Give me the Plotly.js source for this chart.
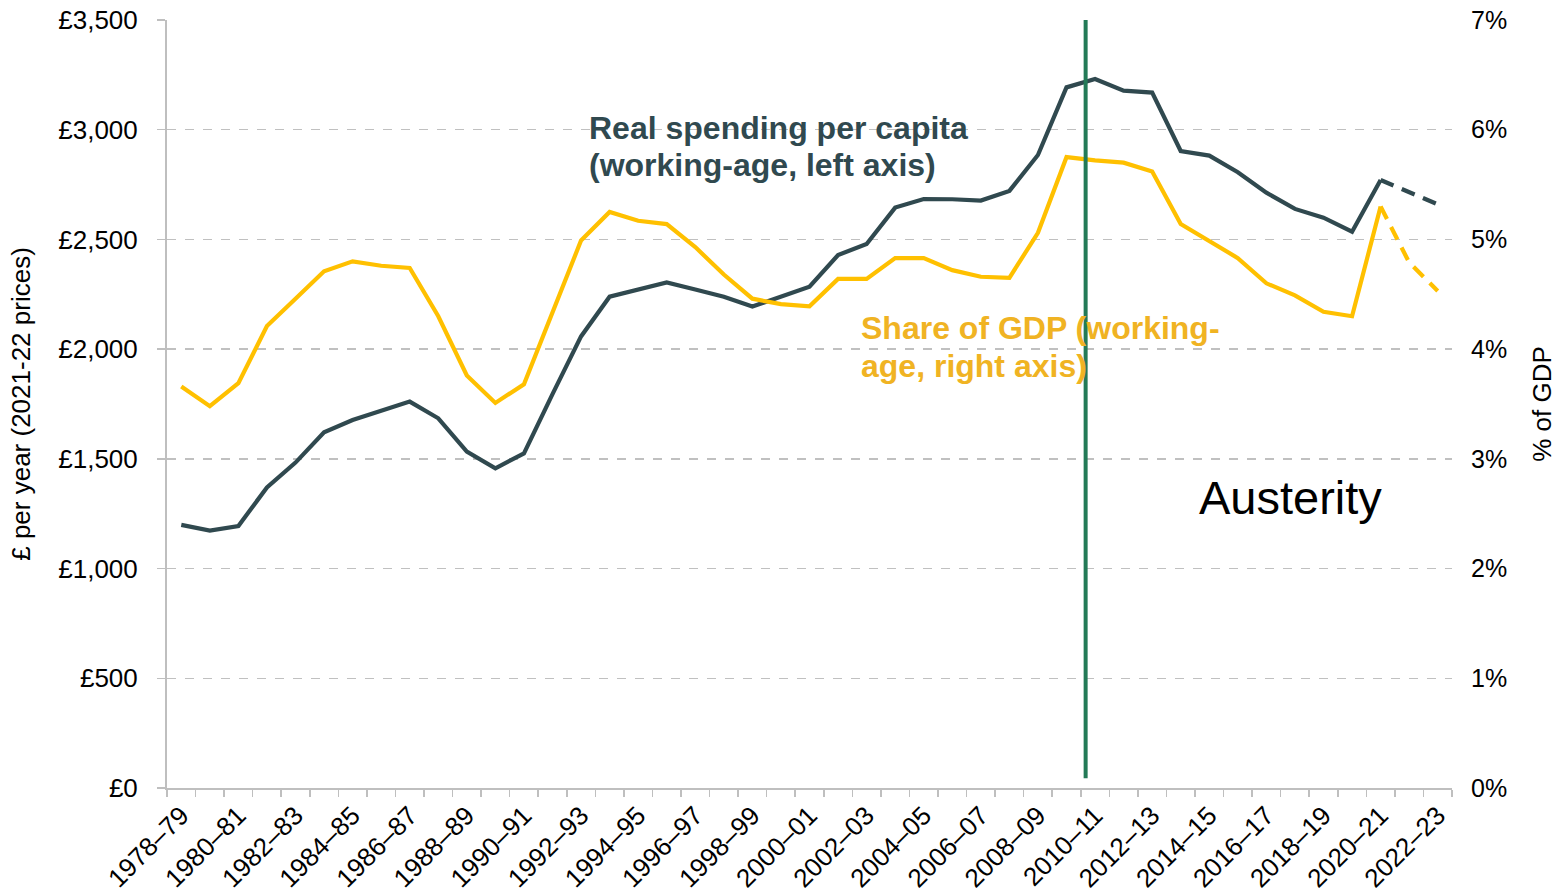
<!DOCTYPE html>
<html>
<head>
<meta charset="utf-8">
<script src="https://cdn.plot.ly/plotly-3.0.1.min.js"></script>
<style>
html,body{margin:0;padding:0;background:#fff;}
#chart{width:1557px;height:896px;}
</style>
</head>
<body>
<div id="chart"></div>
<script>
// Financial years 1978–79 to 2022–23
const years = ["1978–79","1979–80","1980–81","1981–82","1982–83","1983–84","1984–85","1985–86","1986–87","1987–88",
"1988–89","1989–90","1990–91","1991–92","1992–93","1993–94","1994–95","1995–96","1996–97","1997–98",
"1998–99","1999–00","2000–01","2001–02","2002–03","2003–04","2004–05","2005–06","2006–07","2007–08",
"2008–09","2009–10","2010–11","2011–12","2012–13","2013–14","2014–15","2015–16","2016–17","2017–18",
"2018–19","2019–20","2020–21","2021–22","2022–23"];

// Real spending per capita, working-age (£, 2021-22 prices) – left axis
const realSpending = [1199,1173,1194,1370,1483,1621,1677,1718,1761,1685,
1533,1457,1525,1795,2058,2239,2272,2304,2272,2239,
2194,2239,2285,2429,2479,2645,2684,2683,2677,2721,
2885,3193,3231,3178,3169,2903,2882,2806,2713,2639,
2599,2535,2771,2716,2660];

// Share of GDP, working-age (%) – right axis
const shareGDP = [3.66,3.48,3.69,4.21,4.46,4.71,4.80,4.76,4.74,4.30,
3.76,3.51,3.68,4.33,4.99,5.25,5.17,5.14,4.93,4.68,
4.46,4.41,4.39,4.64,4.64,4.83,4.83,4.72,4.66,4.65,
5.06,5.75,5.72,5.70,5.62,5.14,4.99,4.83,4.60,4.49,
4.34,4.30,5.30,4.79,4.53];

// Index where the projected (dashed) part starts
const projStart = 42;

// Tick labels: every second year
const tickLabels = years.map((y,i)=> i%2===0 ? y : "");

const leftTicks = [0,500,1000,1500,2000,2500,3000,3500];
const rightTicks = [0,1,2,3,4,5,6,7];

const spendLabel = ["Real spending per capita", "(working-age, left axis)"];
const shareLabel = ["Share of GDP (working-", "age, right axis)"];
const periodLabel = "Austerity";

const DARK = "#30494f";
const GOLD = "#ffc000";
const FONT = "Liberation Sans, Arial, sans-serif";

const traces = [
  {x: years.slice(0, projStart+1), y: shareGDP.slice(0, projStart+1), yaxis:"y2", type:"scatter", mode:"lines",
   line:{color:GOLD, width:4.2}, hoverinfo:"skip", showlegend:false},
  {x: years.slice(projStart), y: shareGDP.slice(projStart), yaxis:"y2", type:"scatter", mode:"lines",
   line:{color:GOLD, width:4.2, dash:"14px,9px"}, hoverinfo:"skip", showlegend:false},
  {x: years.slice(0, projStart+1), y: realSpending.slice(0, projStart+1), type:"scatter", mode:"lines",
   line:{color:DARK, width:4.2}, hoverinfo:"skip", showlegend:false},
  {x: years.slice(projStart), y: realSpending.slice(projStart), type:"scatter", mode:"lines",
   line:{color:DARK, width:4.2, dash:"14px,9px"}, hoverinfo:"skip", showlegend:false}
];

const layout = {
  width:1557, height:896,
  margin:{l:167, r:105, t:20, b:108},
  paper_bgcolor:"#fff", plot_bgcolor:"#fff",
  font:{family:FONT, size:26, color:"#000"},
  showlegend:false,
  xaxis:{
    type:"category", categoryorder:"array", categoryarray:years,
    range:[-0.5, years.length-0.5],
    tickmode:"array", tickvals:years, ticktext:tickLabels,
    tickson:"boundaries", ticks:"outside", ticklen:7, tickwidth:1.5, tickcolor:"#bfbfbf",
    showline:true, linecolor:"#bfbfbf", linewidth:2,
    showgrid:false, zeroline:false, tickangle:-45,
    tickfont:{size:26, color:"#000"}, automargin:false
  },
  yaxis:{
    range:[0,3500], tickmode:"array", tickvals:leftTicks,
    ticktext:leftTicks.map(v=>"£"+v.toLocaleString("en-GB")),
    showgrid:true, gridcolor:"#c0c0c0", griddash:"dash", gridwidth:1.5,
    showline:true, linecolor:"#bfbfbf", linewidth:2,
    ticks:"outside", ticklen:8, tickwidth:1.5, tickcolor:"#bfbfbf",
    ticklabelstandoff:14,
    zeroline:false, automargin:false,
    tickfont:{size:26, color:"#000"},
    title:{text:"£ per year (2021-22 prices)", font:{size:26, color:"#000"}, standoff:20}
  },
  yaxis2:{
    overlaying:"y", side:"right", range:[0,7], tickmode:"array", tickvals:rightTicks,
    ticktext:rightTicks.map(v=>v+"%"),
    showgrid:false, showline:false, zeroline:false, ticks:"", ticklabelstandoff:18,
    automargin:false, tickfont:{size:25, color:"#000"},
    title:{text:"% of GDP", font:{size:26, color:"#000"}, standoff:26}
  },
  shapes:[
    {type:"line", xref:"x", yref:"y", x0:31.67, x1:31.67, y0:45, y1:3500,
     line:{color:"#237a57", width:4}, layer:"above"}
  ],
  annotations:[
    {xref:"x", yref:"y", x:14.22, y:3008, xanchor:"left", yanchor:"middle", align:"left", showarrow:false,
     text:"<b>"+spendLabel[0]+"</b>", font:{family:FONT, size:32, color:DARK}},
    {xref:"x", yref:"y", x:14.22, y:2839, xanchor:"left", yanchor:"middle", align:"left", showarrow:false,
     text:"<b>"+spendLabel[1]+"</b>", font:{family:FONT, size:32, color:DARK}},
    {xref:"x", yref:"y", x:23.74, y:2096, xanchor:"left", yanchor:"middle", align:"left", showarrow:false,
     text:"<b>"+shareLabel[0]+"</b>", font:{family:FONT, size:32, color:"#f0b323"}},
    {xref:"x", yref:"y", x:23.74, y:1923, xanchor:"left", yanchor:"middle", align:"left", showarrow:false,
     text:"<b>"+shareLabel[1]+"</b>", font:{family:FONT, size:32, color:"#f0b323"}},
    {xref:"x", yref:"y", x:35.58, y:1326, xanchor:"left", yanchor:"middle", align:"left", showarrow:false,
     text:periodLabel, font:{family:FONT, size:47, color:"#000"}}
  ]
};

Plotly.newPlot("chart", traces, layout, {displayModeBar:false, staticPlot:true});
</script>
</body>
</html>
